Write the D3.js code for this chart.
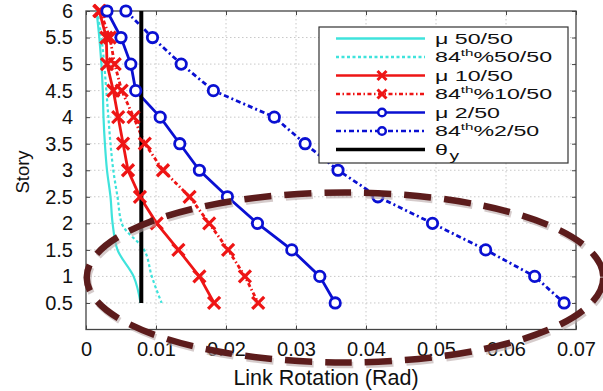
<!DOCTYPE html>
<html><head><meta charset="utf-8">
<script src="https://cdn.jsdelivr.net/npm/d3@7"></script>
<style>body{margin:0;background:#fff}svg{display:block}text{font-family:"Liberation Sans",Arial,sans-serif;fill:#111}</style>
</head><body><svg id="c" width="603" height="391"></svg>
<script>
const stories = [6,5.5,5,4.5,4,3.5,3,2.5,2,1.5,1,0.5];
const mu50  = [0.0015,0.0019,0.0022,0.0024,0.0025,0.0027,0.0030,0.0035,0.0038,0.0045,0.0068,0.0078];
const p84_50= [0.0016,0.0022,0.0026,0.0029,0.0032,0.0035,0.0039,0.0045,0.0051,0.0083,0.0094,0.0108];
const mu10  = [0.0019,0.0029,0.0030,0.0039,0.0046,0.0053,0.0060,0.0077,0.0101,0.0132,0.0162,0.0183];
const p84_10= [0.0020,0.0034,0.0041,0.0051,0.0068,0.0084,0.0110,0.0148,0.0176,0.0203,0.0227,0.0246];
const mu2   = [0.0030,0.0050,0.0064,0.0071,0.0106,0.0134,0.0162,0.0202,0.0245,0.0294,0.0334,0.0356];
const p84_2 = [0.0057,0.0095,0.0136,0.0182,0.0269,0.0313,0.0360,0.0417,0.0495,0.0571,0.0641,0.0683];
const thetaY = 0.0079;
const thetaStories = [0.5, 6];
const xTicks = [0,0.01,0.02,0.03,0.04,0.05,0.06,0.07];
const yTicks = [0.5,1,1.5,2,2.5,3,3.5,4,4.5,5,5.5,6];
const ellipseCenter = [0.037, 0.98];
const ellipseRadii = [0.0369, 1.6];

const svg = d3.select("#c");
const L=86, R=576, T=11, B=329.5;
const x = d3.scaleLinear().domain([0,0.07]).range([L,R]);
const y = d3.scaleLinear().domain([0,6]).range([B,T]);

// grid
const g = svg.append("g");
g.selectAll(".gx").data(xTicks.slice(1,-1)).enter().append("line")
 .attr("x1",d=>x(d)).attr("x2",d=>x(d)).attr("y1",T).attr("y2",B)
 .attr("stroke","#c8c8c8").attr("stroke-width",1).attr("stroke-dasharray","1.5,2.5");
g.selectAll(".gy").data(yTicks.slice(0,-1)).enter().append("line")
 .attr("x1",L).attr("x2",R).attr("y1",d=>y(d)).attr("y2",d=>y(d))
 .attr("stroke","#c8c8c8").attr("stroke-width",1).attr("stroke-dasharray","1.5,2.5");

// axes
const xAx = svg.append("g").attr("transform",`translate(0,${B})`)
 .call(d3.axisBottom(x).tickValues(xTicks).tickFormat(d=>d===0?"0":d3.format(".2f")(d)).tickSizeInner(-4).tickSizeOuter(0).tickPadding(12));
const yAx = svg.append("g").attr("transform",`translate(${L},0)`)
 .call(d3.axisLeft(y).tickValues(yTicks).tickFormat(d3.format("")).tickSizeInner(-4).tickSizeOuter(0).tickPadding(13));
svg.append("g").attr("transform",`translate(0,${T})`)
 .call(d3.axisTop(x).tickValues(xTicks).tickFormat("").tickSizeInner(-4).tickSizeOuter(0));
svg.append("g").attr("transform",`translate(${R},0)`)
 .call(d3.axisRight(y).tickValues(yTicks).tickFormat("").tickSizeInner(-4).tickSizeOuter(0));
svg.selectAll(".domain").remove();
svg.selectAll(".tick line").attr("stroke","#444");
xAx.selectAll("text").attr("font-size",20).attr("fill","#111").attr("font-family","Liberation Sans, Arial, sans-serif");
yAx.selectAll("text").attr("font-size",20).attr("fill","#111").attr("font-family","Liberation Sans, Arial, sans-serif");
svg.append("rect").attr("x",L).attr("y",T).attr("width",R-L).attr("height",B-T)
 .attr("fill","none").attr("stroke","#444").attr("stroke-width",1.3);

// labels
svg.append("text").attr("x",(L+R)/2-5).attr("y",385).attr("text-anchor","middle").attr("font-size",21.5).text("Link Rotation (Rad)");
svg.append("text").attr("transform","translate(29,172) rotate(-90)").attr("text-anchor","middle").attr("font-size",18.5).text("Story");

const CY="#3fe3dc", RD="#ee1515", BL="#0a10d2";
const series = [
 {v:mu50,  c:CY, dash:null, m:null, curve:d3.curveMonotoneY, w:2.2},
 {v:p84_50,c:CY, dash:"3,2.5", m:null, curve:d3.curveMonotoneY, w:2.2},
 {v:mu10,  c:RD, dash:null, m:"x", curve:d3.curveLinear, w:2.8},
 {v:p84_10,c:RD, dash:"4,2.5,1.5,2.5", m:"x", curve:d3.curveLinear, w:2.8},
 {v:mu2,   c:BL, dash:null, m:"o", curve:d3.curveLinear, w:2.8},
 {v:p84_2, c:BL, dash:"5,3,2,3", m:"o", curve:d3.curveLinear, w:2.8}
];
const plot = svg.append("g");
function drawMarker(sel, m, c, px, py){
  if(m==="x"){
    const s=6;
    sel.append("path").attr("d",`M${px-s},${py-s}L${px+s},${py+s}M${px-s},${py+s}L${px+s},${py-s}`)
     .attr("stroke",c).attr("stroke-width",3.2).attr("fill","none");
  } else if(m==="o"){
    sel.append("circle").attr("cx",px).attr("cy",py).attr("r",5.2).attr("fill","#fff").attr("stroke",c).attr("stroke-width",2.8);
  }
}
series.forEach(s=>{
  const pts = s.v.map((v,i)=>[v,stories[i]]);
  plot.append("path").datum(pts)
   .attr("d",d3.line().x(d=>x(d[0])).y(d=>y(d[1])).curve(s.curve))
   .attr("fill","none").attr("stroke",s.c).attr("stroke-width",s.w)
   .attr("stroke-dasharray",s.dash);
});
// theta_y
plot.append("line").attr("x1",x(thetaY)).attr("x2",x(thetaY)).attr("y1",y(thetaStories[0])).attr("y2",y(thetaStories[1]))
 .attr("stroke","#000").attr("stroke-width",4);
series.forEach(s=>{
  if(!s.m) return;
  s.v.forEach((v,i)=>drawMarker(plot,s.m,s.c,x(v),y(stories[i])));
});

// ellipse annotation
const ex=x(ellipseCenter[0]), ey=y(ellipseCenter[1]);
const erx=x(ellipseRadii[0])-x(0), ery=y(0)-y(ellipseRadii[1]);
svg.append("ellipse").attr("cx",ex+1.5).attr("cy",ey+2.5).attr("rx",erx).attr("ry",ery)
 .attr("fill","none").attr("stroke","#b9a9a9").attr("stroke-width",6.5).attr("stroke-dasharray","27,13").attr("opacity",0.6);
svg.append("ellipse").attr("cx",ex).attr("cy",ey).attr("rx",erx).attr("ry",ery)
 .attr("fill","none").attr("stroke","#5c1c1c").attr("stroke-width",6.5).attr("stroke-dasharray","27,13");

// legend
const lg = svg.append("g");
lg.append("rect").attr("x",319).attr("y",27).attr("width",249).attr("height",136).attr("fill","#fff").attr("stroke","#333").attr("stroke-width",1.2);
const legendItems = [
 {c:CY,dash:null,m:null,label:["μ 50/50"]},
 {c:CY,dash:"3,2.5",m:null,label:["84","th","%50/50"]},
 {c:RD,dash:null,m:"x",label:["μ 10/50"]},
 {c:RD,dash:"4,2.5,1.5,2.5",m:"x",label:["84","th","%10/50"]},
 {c:BL,dash:null,m:"o",label:["μ 2/50"]},
 {c:BL,dash:"5,3,2,3",m:"o",label:["84","th","%2/50"]},
 {c:"#000",dash:null,m:null,label:["θ","y"],theta:true}
];
legendItems.forEach((it,i)=>{
  const cy = 38.5 + i*18.5;
  lg.append("line").attr("x1",336).attr("x2",425).attr("y1",cy).attr("y2",cy)
   .attr("stroke",it.c).attr("stroke-width",it.theta?3.5:2.5).attr("stroke-dasharray",it.dash);
  if(it.m){
    if(it.m==="x"){
      const s=4.5, px=382;
      lg.append("path").attr("d",`M${px-s},${cy-s}L${px+s},${cy+s}M${px-s},${cy+s}L${px+s},${cy-s}`).attr("stroke",it.c).attr("stroke-width",3);
    } else {
      lg.append("circle").attr("cx",382).attr("cy",cy).attr("r",3.8).attr("fill","#fff").attr("stroke",it.c).attr("stroke-width",2.5);
    }
  }
  const t = lg.append("text").attr("transform",`translate(435,${cy+5}) scale(1.6,1)`).attr("font-size",14.5);
  if(it.theta){
    t.append("tspan").text("θ");
    t.append("tspan").attr("dy",5).attr("dx",1).attr("font-size",12).text("y");
  } else if(it.label.length===3){
    t.append("tspan").text(it.label[0]);
    t.append("tspan").attr("dy",-6).attr("font-size",9.5).text(it.label[1]);
    t.append("tspan").attr("dy",6).text(it.label[2]);
  } else {
    t.text(it.label[0]);
  }
});
</script></body></html>
